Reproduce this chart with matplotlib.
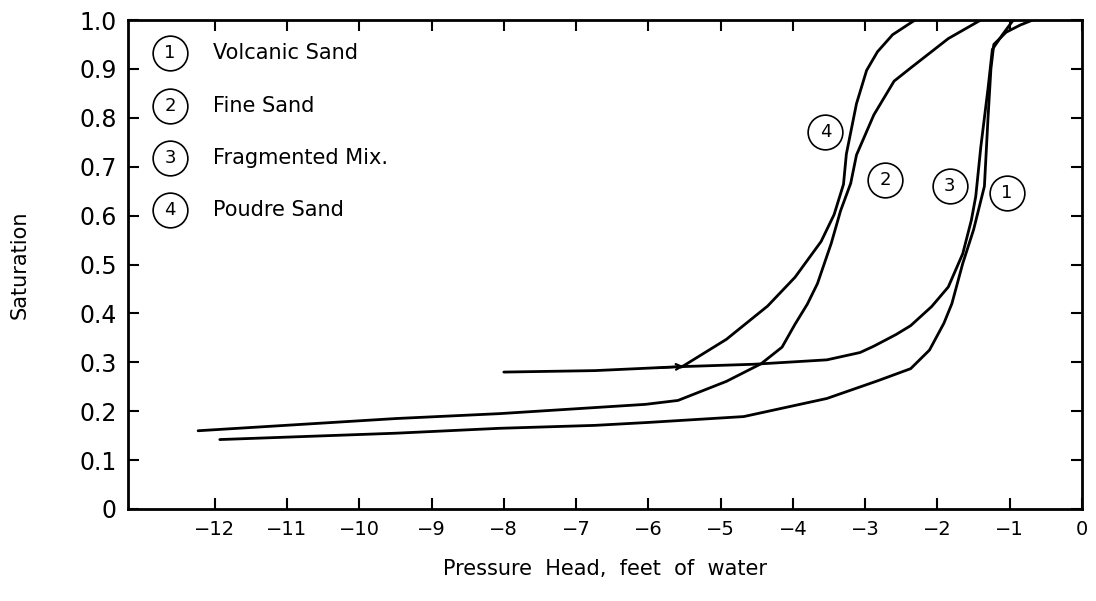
import matplotlib
matplotlib.use("Agg")
import matplotlib.pyplot as plt

# saturation curves
volcanic_x = [-11.93, -9.49, -8.06, -6.74, -6.0, -4.68, -3.53, -2.83, -2.37, -2.11,
              -1.91, -1.8, -1.65, -1.5, -1.35, -1.3, -1.26, -1.22, -1.05, -0.85, -0.68]
volcanic_y = [0.142, 0.155, 0.165, 0.171, 0.177, 0.189, 0.226, 0.262, 0.287, 0.325,
              0.38, 0.42, 0.502, 0.571, 0.66, 0.8, 0.9, 0.95, 0.975, 0.99, 1.0]

fine_x = [-12.23, -9.49, -8.06, -6.04, -5.59, -4.92, -4.44, -4.15, -3.97, -3.8,
          -3.66, -3.47, -3.34, -3.2, -3.12, -2.88, -2.6, -2.37, -1.85, -1.4]
fine_y = [0.16, 0.185, 0.195, 0.214, 0.222, 0.261, 0.297, 0.331, 0.378, 0.419,
          0.461, 0.543, 0.61, 0.666, 0.724, 0.806, 0.875, 0.902, 0.962, 1.0]

frag_x = [-8.0, -6.74, -5.57, -4.54, -3.53, -3.07, -2.88, -2.57, -2.37, -2.08,
          -1.85, -1.65, -1.53, -1.47, -1.4, -1.3, -1.24, -1.1, -0.95]
frag_y = [0.28, 0.283, 0.291, 0.296, 0.305, 0.32, 0.333, 0.357, 0.375, 0.414,
          0.454, 0.522, 0.591, 0.639, 0.74, 0.86, 0.94, 0.97, 1.0]

poudre_x = [-5.55, -5.5, -4.92, -4.35, -3.97, -3.61, -3.43, -3.3, -3.26, -3.12,
            -2.98, -2.83, -2.62, -2.31]
poudre_y = [0.29, 0.294, 0.347, 0.415, 0.474, 0.547, 0.602, 0.664, 0.726, 0.829,
            0.897, 0.935, 0.97, 1.0]

legend_names = ["Volcanic Sand", "Fine Sand", "Fragmented Mix.", "Poudre Sand"]
curve_tags = ["1", "2", "3", "4"]
tag_x = [-1.04, -2.72, -1.83, -3.55]
tag_y = [0.647, 0.672, 0.66, 0.77]

x_ticks = [-12, -11, -10, -9, -8, -7, -6, -5, -4, -3, -2, -1, 0]
x_tick_labels = ["\u221212", "\u221211", "\u221210", "\u22129", "\u22128", "\u22127",
                 "\u22126", "\u22125", "\u22124", "\u22123", "\u22122", "\u22121", "0"]
y_ticks = [0, 0.1, 0.2, 0.3, 0.4, 0.5, 0.6, 0.7, 0.8, 0.9, 1.0]
y_tick_labels = ["0", "0.1", "0.2", "0.3", "0.4", "0.5", "0.6", "0.7", "0.8", "0.9", "1.0"]

fig = plt.figure(figsize=(10.96, 6.01), dpi=100)
ax = fig.add_axes([0.1168, 0.1531, 0.8704, 0.8136])

for xs, ys in [(volcanic_x, volcanic_y), (fine_x, fine_y), (frag_x, frag_y), (poudre_x, poudre_y)]:
    ax.plot(xs, ys, color="black", lw=2.0, solid_capstyle="round", solid_joinstyle="round")

# little arrow where the Poudre curve leaves the flat branch
ax.annotate("", xy=(frag_x[2] + 0.1, frag_y[2] + 0.001), xytext=(frag_x[2] - 0.35, frag_y[2] - 0.003),
            arrowprops=dict(arrowstyle="->", color="black", lw=1.6))

# circled numbers next to the curves
for tx, ty, tag in zip(tag_x, tag_y, curve_tags):
    ax.plot(tx, ty, marker="o", ms=25, mfc="white", mec="black", mew=1.2)
    ax.text(tx, ty, tag, ha="center", va="center", fontsize=13)

# hand made legend in upper left
for i, (tag, name) in enumerate(zip(curve_tags, legend_names)):
    ly = 0.932 - i * 0.107
    ax.plot(0.044, ly, marker="o", ms=25, mfc="white", mec="black", mew=1.2,
            transform=ax.transAxes, clip_on=False)
    ax.text(0.044, ly, tag, ha="center", va="center", fontsize=13, transform=ax.transAxes)
    ax.text(0.089, ly, name, ha="left", va="center", fontsize=15, transform=ax.transAxes)

ax.set_xlim(-13.2, 0)
ax.set_ylim(0, 1.0)
ax.set_xticks(x_ticks)
ax.set_xticklabels(x_tick_labels, fontsize=14)
ax.set_yticks(y_ticks)
ax.set_yticklabels(y_tick_labels, fontsize=17)
ax.tick_params(direction="in", length=8, width=1.5, top=True, right=True, pad=8)
for s in ax.spines.values():
    s.set_linewidth(2.0)

ax.set_xlabel("Pressure  Head,  feet  of  water", fontsize=15, labelpad=14)
ax.set_ylabel("Saturation", fontsize=15, labelpad=36)

fig.savefig("out.png", dpi=100)
